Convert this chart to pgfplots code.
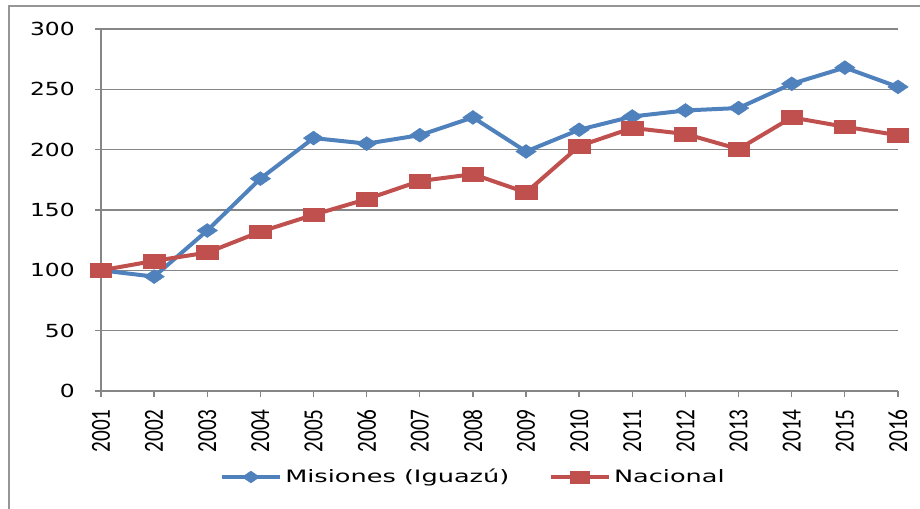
\documentclass[border=0pt]{standalone}
\usepackage{graphicx}
\usepackage{fontspec}
\setmainfont[FakeStretch=1.3]{DejaVu Sans}
\newfontfamily\legfont[FakeStretch=1.5]{DejaVu Sans}
\newfontfamily\xfont{Carlito}
\usepackage{pgfplots}
\pgfplotsset{compat=1.18}
\definecolor{gridgray}{RGB}{134,134,134}
\definecolor{framegray}{RGB}{150,150,150}
\definecolor{mblue}{RGB}{79,129,189}
\definecolor{mred}{RGB}{192,80,77}
\newcommand{\xl}[1]{\scalebox{1}[1.3]{\xfont #1}}
\begin{document}
\begin{tikzpicture}[x=1pt,y=1pt]
\useasboundingbox (0,0) rectangle (690,381);
\draw[framegray, line width=1.1pt] (6.75,-5) -- (6.75,376.5) -- (700,376.5);
\begin{axis}[
  at={(75.75pt,87.75pt)}, anchor=south west,
  scale only axis, width=597.75pt, height=271.5pt,
  xmin=2001, xmax=2016, ymin=0, ymax=300,
  ytick={0,50,...,300},
  xtick={2001,...,2016},
  xticklabels={\xl{2001},\xl{2002},\xl{2003},\xl{2004},\xl{2005},\xl{2006},\xl{2007},\xl{2008},\xl{2009},\xl{2010},\xl{2011},\xl{2012},\xl{2013},\xl{2014},\xl{2015},\xl{2016}},
  axis x line*=bottom, axis y line*=left,
  axis line style={gridgray, line width=1pt, -},
  ymajorgrids, grid style={gridgray, line width=1pt},
  tick align=outside, major tick length=4.5pt,
  tick style={gridgray, line width=1pt},
  /pgf/number format/assume math mode=true,
  yticklabel style={font=\fontsize{13.5}{15}\selectfont, anchor=east, inner sep=0pt},
  yticklabel shift=15pt,
  xticklabel style={font=\fontsize{15.9}{17}\selectfont, rotate=90, anchor=east, inner sep=0pt},
  xticklabel shift=9pt,
  clip=false,
  legend columns=2,
  legend style={draw=none, at={(0.468,-0.2376)}, anchor=center,
    font=\legfont\fontsize{12.8}{15}\selectfont,
    /tikz/every even column/.append style={column sep=27pt},
    /tikz/every odd column/.append style={column sep=0pt},
    nodes={inner sep=2.5pt}},
  legend image code/.code={\draw[mark repeat=2,mark phase=2,#1,mark size=4.4pt] plot coordinates {(0pt,0pt) (21.75pt,0pt) (43.5pt,0pt)};},
]
\addplot[mblue, line width=3pt, mark=diamond*, mark size=5.2pt, mark options={xscale=1.95, solid, line width=0.4pt}] coordinates {
(2001,100) (2002,94.8) (2003,133) (2004,176) (2005,209.6) (2006,205) (2007,212) (2008,226.7)
(2009,198.5) (2010,216.5) (2011,227.5) (2012,232.5) (2013,234.5) (2014,254.6) (2015,268) (2016,252)};
\addlegendentry{Misiones (Iguazú)}
\addplot[mred, line width=3pt, mark=square*, mark size=5.2pt, mark options={xscale=1.55, solid, line width=0.4pt}] coordinates {
(2001,100) (2002,107.8) (2003,114.7) (2004,132) (2005,146) (2006,159) (2007,174) (2008,179.7)
(2009,164.5) (2010,203) (2011,218) (2012,213) (2013,200.5) (2014,226.7) (2015,219) (2016,212)};
\addlegendentry{Nacional}
\end{axis}
\end{tikzpicture}
\end{document}
